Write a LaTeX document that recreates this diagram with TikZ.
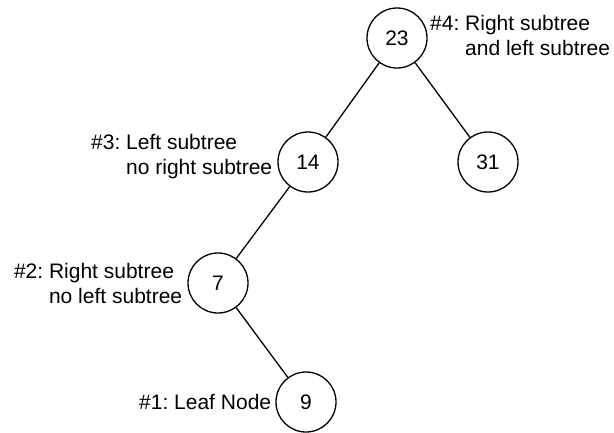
\documentclass[tikz,border=0pt]{standalone}
\usepackage{fontspec}
\setmainfont{Liberation Sans}
\frenchspacing
\usetikzlibrary{positioning}

\begin{document}
\begin{tikzpicture}[x=1pt,y=1pt,black]
  	\tikzstyle{vertex} = [circle,draw,line width=1.3pt,minimum size=60pt,inner sep=0pt,font=\fontsize{21}{25}\selectfont]
  	\tikzstyle{note} = [inner sep=0pt,align=left,font=\fontsize{21}{25}\selectfont]
  	\tikzstyle{branch} = [draw,line width=1.3pt]

    \useasboundingbox (0,0) rectangle (614,-432);

    \node [vertex] (n23) at (397,-38) {23};
    \node [vertex] (n14) at (308,-162) {14};
    \node [vertex] (n31) at (488,-162) {31};
    \node [vertex] (n7) at (218,-283) {7};
    \node [vertex] (n9) at (306,-402) {9};

    \draw [branch] (n23) -- (n14);
    \draw [branch] (n23) -- (n31);
    \draw [branch] (n14) -- (n7);
    \draw [branch] (n7) -- (n9);

    \node [note, anchor=north west] (note4) at (430,-14.6) {\#4: Right subtree\\\phantom{\#4: }and left subtree};
    \node [note, left=5pt of n14, yshift=5pt] (note3) {\#3: Left subtree\\\phantom{\#3: }no right subtree};
    \node [note, left=5pt of n7] (note2) {\#2: Right subtree\\\phantom{\#2: }no left subtree};
    \node [note, left=4pt of n9] (note1) {\#1: Leaf Node};

  \end{tikzpicture}
\end{document}
